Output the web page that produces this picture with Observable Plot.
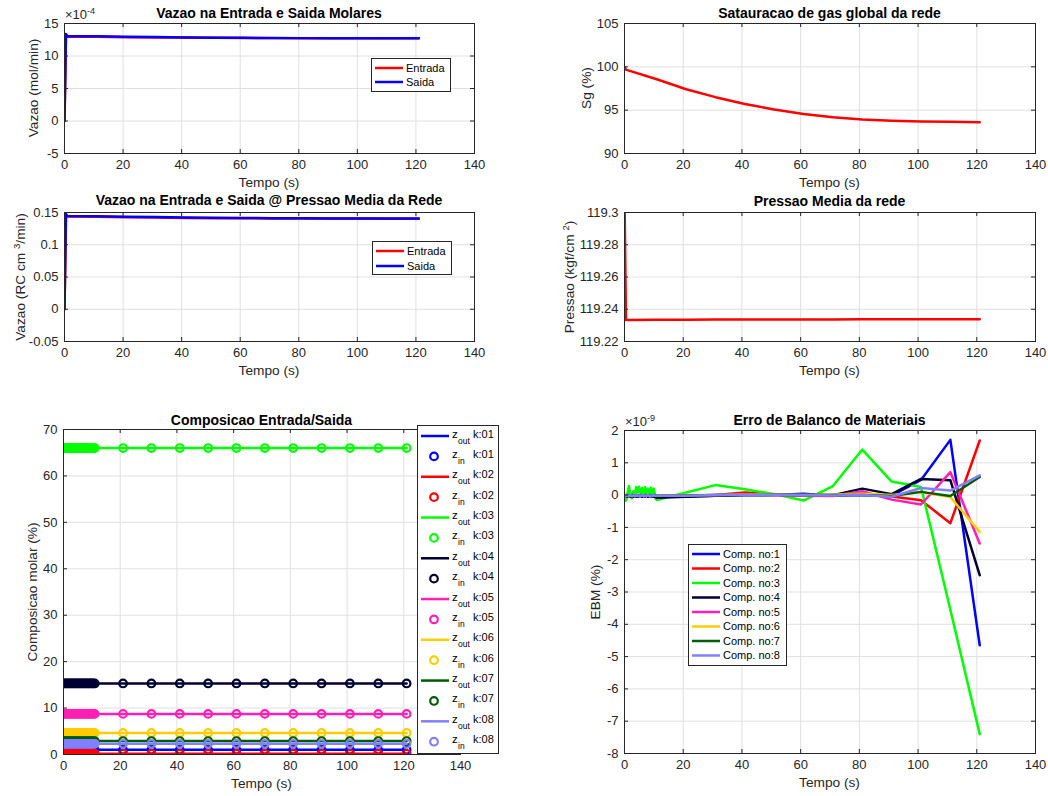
<!DOCTYPE html>
<html><head><meta charset="utf-8">
<script src="https://cdn.jsdelivr.net/npm/d3@7"></script>
<script src="https://cdn.jsdelivr.net/npm/@observablehq/plot@0.6"></script>
<style>
body{margin:0;background:#fff;}
#fig{position:relative;width:1048px;height:796px;overflow:hidden;background:#fff;font-family:"Liberation Sans",Arial,Helvetica,sans-serif;color:#262626;}
.abs{position:absolute;white-space:nowrap;line-height:1;}
.title{font-weight:bold;font-size:14px;color:#000;transform:translate(-50%,-50%);}
.xl{font-size:13.7px;transform:translate(-50%,-50%);}
.yl{font-size:13.7px;transform:translate(-50%,-50%) rotate(-90deg);}
.ex{font-size:13px;}
sup{font-size:70%;vertical-align:0.55em;line-height:0;}
</style></head><body><div id="fig"></div>
<script>
// ---------- data ----------
const tempoCurto = [0, 0.5, 1, 11, 21, 31, 41, 51, 61, 71, 81, 91, 101, 111, 121];
// molar flow, units of 1e-4 mol/min
const vazaoMolarEntrada = [0, 12.98, 12.97, 12.95, 12.9, 12.86, 12.83, 12.8, 12.77, 12.75, 12.74, 12.73, 12.73, 12.72, 12.72];
const vazaoMolarSaida   = [0, 13.38, 13.05, 13.02, 12.96, 12.91, 12.86, 12.82, 12.79, 12.76, 12.75, 12.74, 12.73, 12.72, 12.72];
// flow at mean pressure, RC cm3/min
const vazaoRCEntrada = [0, 0.1438, 0.1437, 0.1433, 0.1427, 0.1421, 0.1416, 0.1412, 0.141, 0.1408, 0.1407, 0.1406, 0.1406, 0.1405, 0.1405];
const vazaoRCSaida   = [0, 0.1478, 0.1447, 0.1443, 0.1436, 0.143, 0.1424, 0.1419, 0.1415, 0.1412, 0.141, 0.1408, 0.1407, 0.1406, 0.1406];
const saturacaoGas = [99.96, 99.68, 99.62, 98.56, 97.42, 96.5, 95.72, 95.07, 94.55, 94.18, 93.93, 93.78, 93.7, 93.65, 93.62];
const pressaoMedia = [119.31, 119.2334, 119.2334, 119.2335, 119.2335, 119.2336, 119.2336, 119.2337, 119.2337, 119.2337, 119.2338, 119.2338, 119.2338, 119.2338, 119.2338];

const tempo = [0,0.5,1,1.5,2,2.5,3,3.5,4,4.5,5,5.5,6,6.5,7,7.5,8,8.5,9,9.5,10,10.5,11,21,31,41,51,61,71,81,91,101,111,121];
// molar composition (%) per component (constant in time)
const composicao = [1.0, 0.15, 66.0, 15.3, 8.75, 4.65, 2.9, 2.3];
const compRotulos = ["k:01","k:02","k:03","k:04","k:05","k:06","k:07","k:08"];
const compCores = ["#0000ff","#ff0000","#00ff00","#000033","#ff1fb4","#ffcc00","#005c00","#8080ff"];

// material balance error, units of 1e-9 %
const ebm1 = [0,-0.02,-0.05,0,-0.04,0.01,-0.05,-0.02,0,-0.05,0,-0.03,-0.05,0,-0.04,-0.01,-0.05,0,-0.03,-0.05,0,-0.03,-0.05, -0.04,-0.02,0.0,0.0,0.04,-0.02,0.0,-0.02,0.47,1.71,-4.65];
const ebm2 = [0,0,-0.02,0,-0.01,0,-0.02,0,0,-0.02,0,-0.01,0,-0.02,0,0,-0.02,0,-0.01,0,-0.02,0,-0.03, -0.03,0.0,0.08,0.02,-0.02,0.0,0.05,-0.04,-0.16,-0.87,1.69];
const ebm3 = [-0.05,-0.17,0.05,0.28,0.02,-0.1,0.12,-0.02,0.25,0.08,0.26,0.03,0.22,-0.02,0.24,0.06,0.2,-0.01,0.23,0.04,0.2,-0.1,-0.15, 0.08,0.31,0.18,0.03,-0.17,0.28,1.41,0.42,0.25,-3.55,-7.4];
const ebm4 = [0,-0.03,-0.05,-0.02,-0.05,-0.03,-0.05,-0.02,-0.05,-0.03,-0.04,-0.02,-0.05,-0.03,-0.04,-0.02,-0.05,-0.03,-0.04,-0.02,-0.05,-0.06,-0.08, -0.05,-0.02,0.0,0.0,0.0,0.0,0.2,0.03,0.5,0.46,-2.48];
const ebm5 = [0,-0.01,0,-0.02,0,-0.01,0,-0.02,0,-0.01,0,-0.02,0,-0.01,0,-0.02,0,-0.01,0,-0.02,0,-0.01,-0.02, -0.02,0.0,0.02,0.0,-0.02,-0.03,0.12,-0.14,-0.29,0.71,-1.5];
const ebm6 = [0,0,-0.01,0,0,-0.01,0,0,-0.01,0,0,-0.01,0,0,-0.01,0,0,-0.01,0,0,-0.01,0,-0.01, 0.0,0.0,0.02,0.02,0.0,0.02,0.04,0.0,0.09,-0.06,-1.14];
const ebm7 = [0,-0.01,0,0,-0.01,0,0,-0.01,0,0,-0.01,0,0,-0.01,0,0,-0.01,0,0,-0.01,0,0,-0.02, -0.01,0.0,0.0,0.01,0.0,0.0,0.0,-0.03,0.1,-0.03,0.56];
const ebm8 = [0,-0.02,-0.01,-0.02,0,-0.02,-0.01,-0.02,0,-0.02,-0.01,-0.02,0,-0.02,-0.01,-0.02,0,-0.02,-0.01,-0.02,0,-0.02,-0.02, -0.02,0.0,0.0,0.0,0.0,-0.01,0.0,-0.05,0.22,0.14,0.61];
const ebmSeries = [ebm1, ebm2, ebm3, ebm4, ebm5, ebm6, ebm7, ebm8];
const ebmRotulos = ["Comp. no:1","Comp. no:2","Comp. no:3","Comp. no:4","Comp. no:5","Comp. no:6","Comp. no:7","Comp. no:8"];

const xTicks = [0, 20, 40, 60, 80, 100, 120, 140];

// ---------- helpers ----------
const fig = document.getElementById("fig");
const AX = "#262626";
function addText(cls, html, x, y) {
  const d = document.createElement("div");
  d.className = "abs " + cls; d.innerHTML = html;
  d.style.left = x + "px"; d.style.top = y + "px";
  fig.appendChild(d); return d;
}
const fmt = d => String(+d.toFixed(6));
const serie = (ts, vs) => ts.map((t, i) => ({t, v: vs[i]}));

function panel(p) {
  const ml = 70, mr = 12, mt = 12, mb = 36;
  const W = p.w + ml + mr, H = p.h + mt + mb;
  const chart = Plot.plot({
    width: W, height: H, marginLeft: ml, marginRight: mr, marginTop: mt, marginBottom: mb,
    style: {fontFamily: '"Liberation Sans", Arial, sans-serif', fontSize: "13px", color: AX, background: "transparent", overflow: "visible"},
    x: {domain: [0, 140]},
    y: {domain: p.yDomain},
    marks: [
      Plot.gridX(xTicks, {stroke: "#e0e0e0", strokeOpacity: 1}),
      Plot.gridY(p.yTicks, {stroke: "#e0e0e0", strokeOpacity: 1}),
      ...p.marks,
      Plot.frame({stroke: AX, strokeWidth: 1}),
      Plot.tickX(xTicks, {x: d => d, insetTop: p.h - 4, stroke: AX}),
      Plot.tickX(xTicks, {x: d => d, insetBottom: p.h - 4, stroke: AX}),
      Plot.tickY(p.yTicks, {y: d => d, insetRight: p.w - 4, stroke: AX}),
      Plot.tickY(p.yTicks, {y: d => d, insetLeft: p.w - 4, stroke: AX}),
      Plot.axisX(xTicks, {tickSize: 0, tickPadding: 6, tickFormat: fmt, fontSize: 13, color: AX, label: null}),
      Plot.axisY(p.yTicks, {tickSize: 0, tickPadding: 6, tickFormat: fmt, fontSize: 13, color: AX, label: null})
    ]
  });
  chart.style.position = "absolute";
  chart.style.left = (p.left - ml) + "px";
  chart.style.top = (p.top - mt) + "px";
  fig.appendChild(chart);
  const cx = p.left + p.w / 2;
  addText("title", p.title, cx, p.titleY);
  addText("xl", "Tempo (s)", cx, p.top + p.h + 30);
  addText("yl", p.yLabel, p.yLabelX, p.top + p.h / 2);
}

function legendSvg(x, y, w, h) {
  const svg = d3.select(fig).append("svg").attr("width", w).attr("height", h)
    .style("position", "absolute").style("left", x + "px").style("top", y + "px")
    .style("font-family", '"Liberation Sans", Arial, sans-serif');
  svg.append("rect").attr("x", 0.5).attr("y", 0.5).attr("width", w - 1).attr("height", h - 1)
    .attr("fill", "#fff").attr("stroke", AX);
  return svg;
}
function simpleLegend(x, y, w, h, labels, colors, y0, dy) {
  const svg = legendSvg(x, y, w, h);
  labels.forEach((lab, i) => {
    const yy = y0 + i * dy;
    svg.append("line").attr("x1", 4).attr("x2", 32).attr("y1", yy).attr("y2", yy)
      .attr("stroke", colors[i]).attr("stroke-width", 2.5);
    svg.append("text").attr("x", 35).attr("y", yy).attr("dy", "0.35em")
      .attr("font-size", 11).attr("fill", "#000").text(lab);
  });
}

// ---------- panel A ----------
panel({
  left: 64, top: 23, w: 410, h: 130, yDomain: [-5, 15], yTicks: [-5, 0, 5, 10, 15],
  title: "Vazao na Entrada e Saida Molares", titleY: 12.5,
  yLabel: "Vazao (mol/min)", yLabelX: 33.5,
  marks: [
    Plot.line(serie(tempoCurto, vazaoMolarEntrada), {x: "t", y: "v", stroke: "#ff0000", strokeWidth: 2.5, clip: true}),
    Plot.line(serie(tempoCurto, vazaoMolarSaida), {x: "t", y: "v", stroke: "#0000ff", strokeWidth: 2.5, clip: true})
  ]
});
addText("ex", "&times;10<sup>-4</sup>", 65, 8);
simpleLegend(371, 58, 80, 34, ["Entrada", "Saida"], ["#ff0000", "#0000ff"], 10, 14);

// ---------- panel B ----------
panel({
  left: 624, top: 23, w: 411, h: 130, yDomain: [90, 105], yTicks: [90, 95, 100, 105],
  title: "Satauracao de gas global da rede", titleY: 12.5,
  yLabel: "Sg (%)", yLabelX: 587,
  marks: [
    Plot.line(serie(tempoCurto, saturacaoGas), {x: "t", y: "v", stroke: "#ff0000", strokeWidth: 2.5, clip: true})
  ]
});

// ---------- panel C ----------
panel({
  left: 64, top: 212, w: 410, h: 129, yDomain: [-0.05, 0.15], yTicks: [-0.05, 0, 0.05, 0.1, 0.15],
  title: "Vazao na Entrada e Saida @ Pressao Media da Rede", titleY: 200,
  yLabel: "Vazao (RC cm <sup>3</sup>/min)", yLabelX: 21,
  marks: [
    Plot.line(serie(tempoCurto, vazaoRCEntrada), {x: "t", y: "v", stroke: "#ff0000", strokeWidth: 2.5, clip: true}),
    Plot.line(serie(tempoCurto, vazaoRCSaida), {x: "t", y: "v", stroke: "#0000ff", strokeWidth: 2.5, clip: true})
  ]
});
simpleLegend(372, 241, 80, 34, ["Entrada", "Saida"], ["#ff0000", "#0000ff"], 10, 15);

// ---------- panel D ----------
panel({
  left: 624, top: 212, w: 411, h: 129, yDomain: [119.22, 119.3], yTicks: [119.22, 119.24, 119.26, 119.28, 119.3],
  title: "Pressao Media da rede", titleY: 200.5,
  yLabel: "Pressao (kgf/cm <sup>2</sup>)", yLabelX: 570,
  marks: [
    Plot.line(serie(tempoCurto, pressaoMedia), {x: "t", y: "v", stroke: "#ff0000", strokeWidth: 2.5, clip: true})
  ]
});

// ---------- panel E ----------
const compMarks = [];
composicao.forEach((z, k) => {
  const rows = tempo.map(t => ({t, z}));
  compMarks.push(Plot.line(rows, {x: "t", y: "z", stroke: compCores[k], strokeWidth: 2.5, clip: true}));
  compMarks.push(Plot.dot(rows, {x: "t", y: "z", r: 3.8, stroke: compCores[k], strokeWidth: 2.2, fill: "none", clip: true}));
});
panel({
  left: 63, top: 429, w: 397, h: 325, yDomain: [0, 70], yTicks: [0, 10, 20, 30, 40, 50, 60, 70],
  title: "Composicao Entrada/Saida", titleY: 420,
  yLabel: "Composicao molar (%)", yLabelX: 33,
  marks: compMarks
});
{
  const svg = legendSvg(417, 425, 82, 329);
  const dy = 20.38;
  compRotulos.forEach((lab, k) => {
    const y1 = 11 + 2 * k * dy, y2 = 11 + (2 * k + 1) * dy;
    svg.append("line").attr("x1", 4).attr("x2", 32).attr("y1", y1).attr("y2", y1)
      .attr("stroke", compCores[k]).attr("stroke-width", 2.5);
    svg.append("circle").attr("cx", 17).attr("cy", y2).attr("r", 3.8)
      .attr("fill", "none").attr("stroke", compCores[k]).attr("stroke-width", 2.2);
    [[y1, "out"], [y2, "in"]].forEach(([yy, sub]) => {
      svg.append("text").attr("x", 35).attr("y", yy + 1.5).attr("font-size", 11.5).attr("fill", "#000").text("z");
      svg.append("text").attr("x", 41).attr("y", yy + 7.5).attr("font-size", 8.5).attr("fill", "#000").text(sub);
      svg.append("text").attr("x", 56).attr("y", yy + 1.5).attr("font-size", 11).attr("fill", "#000").text(lab);
    });
  });
}

// ---------- panel F ----------
const ebmMarks = ebmSeries.map((s, k) =>
  Plot.line(serie(tempo, s), {x: "t", y: "v", stroke: compCores[k], strokeWidth: 2.5, clip: true}));
panel({
  left: 624, top: 430, w: 411, h: 323, yDomain: [-8, 2], yTicks: [-8, -7, -6, -5, -4, -3, -2, -1, 0, 1, 2],
  title: "Erro de Balanco de Materiais", titleY: 420,
  yLabel: "EBM (%)", yLabelX: 596,
  marks: ebmMarks
});
addText("ex", "&times;10<sup>-9</sup>", 625, 415);
simpleLegend(688, 544, 99, 122, ebmRotulos, compCores, 10, 14.5);
</script></body></html>
